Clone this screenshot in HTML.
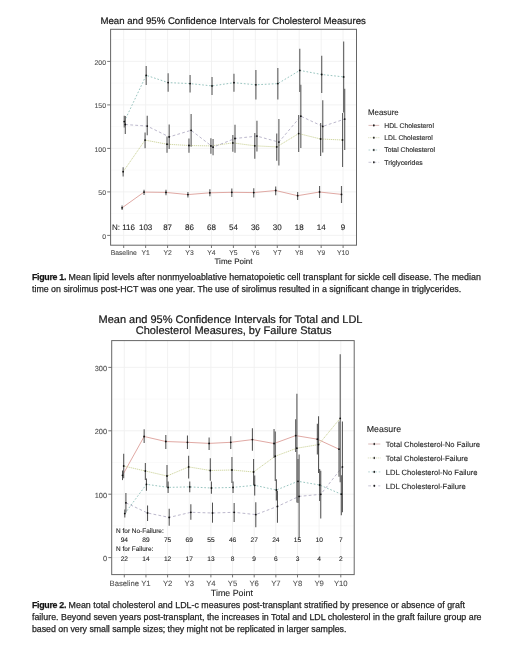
<!DOCTYPE html>
<html><head><meta charset="utf-8"><title>Figures</title>
<style>
html,body{margin:0;padding:0;background:#fff;}
body{width:520px;height:651px;position:relative;overflow:hidden;font-family:"Liberation Sans",sans-serif;}
svg{position:absolute;left:0;top:0;will-change:transform;}
svg text{font-family:"Liberation Sans",sans-serif;text-rendering:geometricPrecision;}
.cl{position:absolute;white-space:nowrap;font-size:8.83px;line-height:1;color:#262626;-webkit-text-stroke:0.25px #262626;}
.cl b{font-weight:bold;color:#111;}
</style></head>
<body>
<svg width="520" height="651" viewBox="0 0 520 651">
<line x1="110.6" x2="356.5" y1="213.65" y2="213.65" stroke="#f6f6f6" stroke-width="0.6"/>
<line x1="110.6" x2="356.5" y1="170.15" y2="170.15" stroke="#f6f6f6" stroke-width="0.6"/>
<line x1="110.6" x2="356.5" y1="126.65" y2="126.65" stroke="#f6f6f6" stroke-width="0.6"/>
<line x1="110.6" x2="356.5" y1="83.15" y2="83.15" stroke="#f6f6f6" stroke-width="0.6"/>
<line x1="110.6" x2="356.5" y1="39.65" y2="39.65" stroke="#f6f6f6" stroke-width="0.6"/>
<line x1="110.6" x2="356.5" y1="235.40" y2="235.40" stroke="#f0f0f0" stroke-width="0.9"/>
<line x1="110.6" x2="356.5" y1="191.90" y2="191.90" stroke="#f0f0f0" stroke-width="0.9"/>
<line x1="110.6" x2="356.5" y1="148.40" y2="148.40" stroke="#f0f0f0" stroke-width="0.9"/>
<line x1="110.6" x2="356.5" y1="104.90" y2="104.90" stroke="#f0f0f0" stroke-width="0.9"/>
<line x1="110.6" x2="356.5" y1="61.40" y2="61.40" stroke="#f0f0f0" stroke-width="0.9"/>
<line x1="123.70" x2="123.70" y1="29.3" y2="245.2" stroke="#f0f0f0" stroke-width="0.9"/>
<line x1="145.64" x2="145.64" y1="29.3" y2="245.2" stroke="#f0f0f0" stroke-width="0.9"/>
<line x1="167.58" x2="167.58" y1="29.3" y2="245.2" stroke="#f0f0f0" stroke-width="0.9"/>
<line x1="189.52" x2="189.52" y1="29.3" y2="245.2" stroke="#f0f0f0" stroke-width="0.9"/>
<line x1="211.46" x2="211.46" y1="29.3" y2="245.2" stroke="#f0f0f0" stroke-width="0.9"/>
<line x1="233.40" x2="233.40" y1="29.3" y2="245.2" stroke="#f0f0f0" stroke-width="0.9"/>
<line x1="255.34" x2="255.34" y1="29.3" y2="245.2" stroke="#f0f0f0" stroke-width="0.9"/>
<line x1="277.28" x2="277.28" y1="29.3" y2="245.2" stroke="#f0f0f0" stroke-width="0.9"/>
<line x1="299.22" x2="299.22" y1="29.3" y2="245.2" stroke="#f0f0f0" stroke-width="0.9"/>
<line x1="321.16" x2="321.16" y1="29.3" y2="245.2" stroke="#f0f0f0" stroke-width="0.9"/>
<line x1="343.10" x2="343.10" y1="29.3" y2="245.2" stroke="#f0f0f0" stroke-width="0.9"/>
<polyline points="122.10,207.80 144.04,192.10 165.98,192.40 187.92,194.60 209.86,192.80 231.80,192.30 253.74,192.60 275.68,190.50 297.62,195.70 319.56,192.00 341.50,194.40" fill="none" stroke="#da9993" stroke-width="0.85" />
<polyline points="123.15,171.70 145.09,140.10 167.03,144.20 188.97,145.50 210.91,145.90 232.85,142.90 254.79,145.80 276.73,146.90 298.67,133.60 320.61,139.00 342.55,140.00" fill="none" stroke="#c9d094" stroke-width="0.85" stroke-dasharray="0.5 1.5" stroke-linecap="round"/>
<polyline points="124.25,121.60 146.19,75.30 168.13,82.60 190.07,83.60 212.01,85.90 233.95,82.70 255.89,84.80 277.83,83.60 299.77,70.40 321.71,74.50 343.65,76.90" fill="none" stroke="#86bab5" stroke-width="0.85" stroke-dasharray="1.7 1.8"/>
<polyline points="125.30,124.50 147.24,126.10 169.18,136.90 191.12,130.30 213.06,147.20 235.00,138.50 256.94,136.10 278.88,142.10 300.82,116.20 322.76,126.40 344.70,119.10" fill="none" stroke="#b0abc3" stroke-width="0.85" stroke-dasharray="2.8 2.2"/>
<line x1="122.10" x2="122.10" y1="205.50" y2="210.10" stroke="#636363" stroke-width="1.15"/>
<line x1="144.04" x2="144.04" y1="189.70" y2="194.90" stroke="#636363" stroke-width="1.15"/>
<line x1="165.98" x2="165.98" y1="189.70" y2="195.20" stroke="#636363" stroke-width="1.15"/>
<line x1="187.92" x2="187.92" y1="192.10" y2="197.40" stroke="#636363" stroke-width="1.15"/>
<line x1="209.86" x2="209.86" y1="189.20" y2="196.20" stroke="#636363" stroke-width="1.15"/>
<line x1="231.80" x2="231.80" y1="188.50" y2="196.90" stroke="#636363" stroke-width="1.15"/>
<line x1="253.74" x2="253.74" y1="188.20" y2="197.40" stroke="#636363" stroke-width="1.15"/>
<line x1="275.68" x2="275.68" y1="186.60" y2="195.30" stroke="#636363" stroke-width="1.15"/>
<line x1="297.62" x2="297.62" y1="192.00" y2="200.00" stroke="#636363" stroke-width="1.15"/>
<line x1="319.56" x2="319.56" y1="186.00" y2="198.00" stroke="#636363" stroke-width="1.15"/>
<line x1="341.50" x2="341.50" y1="186.00" y2="203.00" stroke="#636363" stroke-width="1.15"/>
<line x1="123.15" x2="123.15" y1="167.30" y2="176.60" stroke="#636363" stroke-width="1.15"/>
<line x1="145.09" x2="145.09" y1="132.50" y2="148.30" stroke="#636363" stroke-width="1.15"/>
<line x1="167.03" x2="167.03" y1="136.40" y2="152.70" stroke="#636363" stroke-width="1.15"/>
<line x1="188.97" x2="188.97" y1="138.50" y2="152.70" stroke="#636363" stroke-width="1.15"/>
<line x1="210.91" x2="210.91" y1="138.20" y2="153.70" stroke="#636363" stroke-width="1.15"/>
<line x1="232.85" x2="232.85" y1="135.00" y2="151.80" stroke="#636363" stroke-width="1.15"/>
<line x1="254.79" x2="254.79" y1="132.90" y2="158.70" stroke="#636363" stroke-width="1.15"/>
<line x1="276.73" x2="276.73" y1="133.40" y2="160.80" stroke="#636363" stroke-width="1.15"/>
<line x1="298.67" x2="298.67" y1="115.00" y2="152.00" stroke="#636363" stroke-width="1.15"/>
<line x1="320.61" x2="320.61" y1="123.00" y2="156.00" stroke="#636363" stroke-width="1.15"/>
<line x1="342.55" x2="342.55" y1="113.00" y2="167.00" stroke="#636363" stroke-width="1.15"/>
<line x1="124.25" x2="124.25" y1="115.80" y2="127.40" stroke="#636363" stroke-width="1.15"/>
<line x1="146.19" x2="146.19" y1="66.10" y2="85.00" stroke="#636363" stroke-width="1.15"/>
<line x1="168.13" x2="168.13" y1="73.30" y2="91.80" stroke="#636363" stroke-width="1.15"/>
<line x1="190.07" x2="190.07" y1="75.00" y2="92.40" stroke="#636363" stroke-width="1.15"/>
<line x1="212.01" x2="212.01" y1="77.00" y2="94.90" stroke="#636363" stroke-width="1.15"/>
<line x1="233.95" x2="233.95" y1="73.80" y2="91.80" stroke="#636363" stroke-width="1.15"/>
<line x1="255.89" x2="255.89" y1="70.00" y2="99.50" stroke="#636363" stroke-width="1.15"/>
<line x1="277.83" x2="277.83" y1="67.90" y2="99.50" stroke="#636363" stroke-width="1.15"/>
<line x1="299.77" x2="299.77" y1="48.80" y2="92.10" stroke="#636363" stroke-width="1.15"/>
<line x1="321.71" x2="321.71" y1="55.80" y2="92.90" stroke="#636363" stroke-width="1.15"/>
<line x1="343.65" x2="343.65" y1="41.40" y2="112.40" stroke="#636363" stroke-width="1.15"/>
<line x1="125.30" x2="125.30" y1="116.00" y2="134.00" stroke="#636363" stroke-width="1.15"/>
<line x1="147.24" x2="147.24" y1="115.80" y2="135.30" stroke="#636363" stroke-width="1.15"/>
<line x1="169.18" x2="169.18" y1="124.60" y2="149.10" stroke="#636363" stroke-width="1.15"/>
<line x1="191.12" x2="191.12" y1="114.00" y2="146.70" stroke="#636363" stroke-width="1.15"/>
<line x1="213.06" x2="213.06" y1="139.00" y2="155.30" stroke="#636363" stroke-width="1.15"/>
<line x1="235.00" x2="235.00" y1="124.80" y2="152.70" stroke="#636363" stroke-width="1.15"/>
<line x1="256.94" x2="256.94" y1="120.80" y2="151.50" stroke="#636363" stroke-width="1.15"/>
<line x1="278.88" x2="278.88" y1="118.90" y2="165.60" stroke="#636363" stroke-width="1.15"/>
<line x1="300.82" x2="300.82" y1="84.80" y2="148.00" stroke="#636363" stroke-width="1.15"/>
<line x1="322.76" x2="322.76" y1="100.30" y2="152.50" stroke="#636363" stroke-width="1.15"/>
<line x1="344.70" x2="344.70" y1="88.80" y2="150.00" stroke="#636363" stroke-width="1.15"/>
<circle cx="122.10" cy="207.80" r="0.9" fill="#111"/>
<circle cx="144.04" cy="192.10" r="0.9" fill="#111"/>
<circle cx="165.98" cy="192.40" r="0.9" fill="#111"/>
<circle cx="187.92" cy="194.60" r="0.9" fill="#111"/>
<circle cx="209.86" cy="192.80" r="0.9" fill="#111"/>
<circle cx="231.80" cy="192.30" r="0.9" fill="#111"/>
<circle cx="253.74" cy="192.60" r="0.9" fill="#111"/>
<circle cx="275.68" cy="190.50" r="0.9" fill="#111"/>
<circle cx="297.62" cy="195.70" r="0.9" fill="#111"/>
<circle cx="319.56" cy="192.00" r="0.9" fill="#111"/>
<circle cx="341.50" cy="194.40" r="0.9" fill="#111"/>
<circle cx="123.15" cy="171.70" r="0.9" fill="#111"/>
<circle cx="145.09" cy="140.10" r="0.9" fill="#111"/>
<circle cx="167.03" cy="144.20" r="0.9" fill="#111"/>
<circle cx="188.97" cy="145.50" r="0.9" fill="#111"/>
<circle cx="210.91" cy="145.90" r="0.9" fill="#111"/>
<circle cx="232.85" cy="142.90" r="0.9" fill="#111"/>
<circle cx="254.79" cy="145.80" r="0.9" fill="#111"/>
<circle cx="276.73" cy="146.90" r="0.9" fill="#111"/>
<circle cx="298.67" cy="133.60" r="0.9" fill="#111"/>
<circle cx="320.61" cy="139.00" r="0.9" fill="#111"/>
<circle cx="342.55" cy="140.00" r="0.9" fill="#111"/>
<circle cx="124.25" cy="121.60" r="0.9" fill="#111"/>
<circle cx="146.19" cy="75.30" r="0.9" fill="#111"/>
<circle cx="168.13" cy="82.60" r="0.9" fill="#111"/>
<circle cx="190.07" cy="83.60" r="0.9" fill="#111"/>
<circle cx="212.01" cy="85.90" r="0.9" fill="#111"/>
<circle cx="233.95" cy="82.70" r="0.9" fill="#111"/>
<circle cx="255.89" cy="84.80" r="0.9" fill="#111"/>
<circle cx="277.83" cy="83.60" r="0.9" fill="#111"/>
<circle cx="299.77" cy="70.40" r="0.9" fill="#111"/>
<circle cx="321.71" cy="74.50" r="0.9" fill="#111"/>
<circle cx="343.65" cy="76.90" r="0.9" fill="#111"/>
<circle cx="125.30" cy="124.50" r="0.9" fill="#111"/>
<circle cx="147.24" cy="126.10" r="0.9" fill="#111"/>
<circle cx="169.18" cy="136.90" r="0.9" fill="#111"/>
<circle cx="191.12" cy="130.30" r="0.9" fill="#111"/>
<circle cx="213.06" cy="147.20" r="0.9" fill="#111"/>
<circle cx="235.00" cy="138.50" r="0.9" fill="#111"/>
<circle cx="256.94" cy="136.10" r="0.9" fill="#111"/>
<circle cx="278.88" cy="142.10" r="0.9" fill="#111"/>
<circle cx="300.82" cy="116.20" r="0.9" fill="#111"/>
<circle cx="322.76" cy="126.40" r="0.9" fill="#111"/>
<circle cx="344.70" cy="119.10" r="0.9" fill="#111"/>
<rect x="110.6" y="29.3" width="245.9" height="215.89999999999998" fill="none" stroke="#666666" stroke-width="1"/>
<line x1="107.20" x2="110.6" y1="235.40" y2="235.40" stroke="#666666" stroke-width="0.9"/>
<text x="106.00" y="238.67" font-size="6.9" fill="#4f4f4f" text-anchor="end" font-weight="normal" stroke="#4f4f4f" stroke-width="0.1">0</text>
<line x1="107.20" x2="110.6" y1="191.90" y2="191.90" stroke="#666666" stroke-width="0.9"/>
<text x="106.00" y="195.17" font-size="6.9" fill="#4f4f4f" text-anchor="end" font-weight="normal" stroke="#4f4f4f" stroke-width="0.1">50</text>
<line x1="107.20" x2="110.6" y1="148.40" y2="148.40" stroke="#666666" stroke-width="0.9"/>
<text x="106.00" y="151.67" font-size="6.9" fill="#4f4f4f" text-anchor="end" font-weight="normal" stroke="#4f4f4f" stroke-width="0.1">100</text>
<line x1="107.20" x2="110.6" y1="104.90" y2="104.90" stroke="#666666" stroke-width="0.9"/>
<text x="106.00" y="108.17" font-size="6.9" fill="#4f4f4f" text-anchor="end" font-weight="normal" stroke="#4f4f4f" stroke-width="0.1">150</text>
<line x1="107.20" x2="110.6" y1="61.40" y2="61.40" stroke="#666666" stroke-width="0.9"/>
<text x="106.00" y="64.67" font-size="6.9" fill="#4f4f4f" text-anchor="end" font-weight="normal" stroke="#4f4f4f" stroke-width="0.1">200</text>
<line x1="123.70" x2="123.70" y1="245.2" y2="248.00" stroke="#666666" stroke-width="0.9"/>
<text x="123.70" y="255.03" font-size="6.8" fill="#4f4f4f" text-anchor="middle" font-weight="normal" stroke="#4f4f4f" stroke-width="0.1">Baseline</text>
<line x1="145.64" x2="145.64" y1="245.2" y2="248.00" stroke="#666666" stroke-width="0.9"/>
<text x="145.64" y="255.03" font-size="6.8" fill="#4f4f4f" text-anchor="middle" font-weight="normal" stroke="#4f4f4f" stroke-width="0.1">Y1</text>
<line x1="167.58" x2="167.58" y1="245.2" y2="248.00" stroke="#666666" stroke-width="0.9"/>
<text x="167.58" y="255.03" font-size="6.8" fill="#4f4f4f" text-anchor="middle" font-weight="normal" stroke="#4f4f4f" stroke-width="0.1">Y2</text>
<line x1="189.52" x2="189.52" y1="245.2" y2="248.00" stroke="#666666" stroke-width="0.9"/>
<text x="189.52" y="255.03" font-size="6.8" fill="#4f4f4f" text-anchor="middle" font-weight="normal" stroke="#4f4f4f" stroke-width="0.1">Y3</text>
<line x1="211.46" x2="211.46" y1="245.2" y2="248.00" stroke="#666666" stroke-width="0.9"/>
<text x="211.46" y="255.03" font-size="6.8" fill="#4f4f4f" text-anchor="middle" font-weight="normal" stroke="#4f4f4f" stroke-width="0.1">Y4</text>
<line x1="233.40" x2="233.40" y1="245.2" y2="248.00" stroke="#666666" stroke-width="0.9"/>
<text x="233.40" y="255.03" font-size="6.8" fill="#4f4f4f" text-anchor="middle" font-weight="normal" stroke="#4f4f4f" stroke-width="0.1">Y5</text>
<line x1="255.34" x2="255.34" y1="245.2" y2="248.00" stroke="#666666" stroke-width="0.9"/>
<text x="255.34" y="255.03" font-size="6.8" fill="#4f4f4f" text-anchor="middle" font-weight="normal" stroke="#4f4f4f" stroke-width="0.1">Y6</text>
<line x1="277.28" x2="277.28" y1="245.2" y2="248.00" stroke="#666666" stroke-width="0.9"/>
<text x="277.28" y="255.03" font-size="6.8" fill="#4f4f4f" text-anchor="middle" font-weight="normal" stroke="#4f4f4f" stroke-width="0.1">Y7</text>
<line x1="299.22" x2="299.22" y1="245.2" y2="248.00" stroke="#666666" stroke-width="0.9"/>
<text x="299.22" y="255.03" font-size="6.8" fill="#4f4f4f" text-anchor="middle" font-weight="normal" stroke="#4f4f4f" stroke-width="0.1">Y8</text>
<line x1="321.16" x2="321.16" y1="245.2" y2="248.00" stroke="#666666" stroke-width="0.9"/>
<text x="321.16" y="255.03" font-size="6.8" fill="#4f4f4f" text-anchor="middle" font-weight="normal" stroke="#4f4f4f" stroke-width="0.1">Y9</text>
<line x1="343.10" x2="343.10" y1="245.2" y2="248.00" stroke="#666666" stroke-width="0.9"/>
<text x="343.10" y="255.03" font-size="6.8" fill="#4f4f4f" text-anchor="middle" font-weight="normal" stroke="#4f4f4f" stroke-width="0.1">Y10</text>
<line x1="111.7" x2="354.2" y1="525.90" y2="525.90" stroke="#f6f6f6" stroke-width="0.6"/>
<line x1="111.7" x2="354.2" y1="462.50" y2="462.50" stroke="#f6f6f6" stroke-width="0.6"/>
<line x1="111.7" x2="354.2" y1="399.10" y2="399.10" stroke="#f6f6f6" stroke-width="0.6"/>
<line x1="111.7" x2="354.2" y1="557.60" y2="557.60" stroke="#f0f0f0" stroke-width="0.9"/>
<line x1="111.7" x2="354.2" y1="494.20" y2="494.20" stroke="#f0f0f0" stroke-width="0.9"/>
<line x1="111.7" x2="354.2" y1="430.80" y2="430.80" stroke="#f0f0f0" stroke-width="0.9"/>
<line x1="111.7" x2="354.2" y1="367.40" y2="367.40" stroke="#f0f0f0" stroke-width="0.9"/>
<line x1="124.30" x2="124.30" y1="340.6" y2="574.6" stroke="#f0f0f0" stroke-width="0.9"/>
<line x1="145.95" x2="145.95" y1="340.6" y2="574.6" stroke="#f0f0f0" stroke-width="0.9"/>
<line x1="167.60" x2="167.60" y1="340.6" y2="574.6" stroke="#f0f0f0" stroke-width="0.9"/>
<line x1="189.25" x2="189.25" y1="340.6" y2="574.6" stroke="#f0f0f0" stroke-width="0.9"/>
<line x1="210.90" x2="210.90" y1="340.6" y2="574.6" stroke="#f0f0f0" stroke-width="0.9"/>
<line x1="232.55" x2="232.55" y1="340.6" y2="574.6" stroke="#f0f0f0" stroke-width="0.9"/>
<line x1="254.20" x2="254.20" y1="340.6" y2="574.6" stroke="#f0f0f0" stroke-width="0.9"/>
<line x1="275.85" x2="275.85" y1="340.6" y2="574.6" stroke="#f0f0f0" stroke-width="0.9"/>
<line x1="297.50" x2="297.50" y1="340.6" y2="574.6" stroke="#f0f0f0" stroke-width="0.9"/>
<line x1="319.15" x2="319.15" y1="340.6" y2="574.6" stroke="#f0f0f0" stroke-width="0.9"/>
<line x1="340.80" x2="340.80" y1="340.6" y2="574.6" stroke="#f0f0f0" stroke-width="0.9"/>
<polyline points="122.50,475.30 144.15,436.50 165.80,441.50 187.45,442.30 209.10,443.40 230.75,442.30 252.40,439.60 274.05,443.50 295.70,435.60 317.35,439.20 339.00,449.20" fill="none" stroke="#da9993" stroke-width="0.85" />
<polyline points="123.70,466.00 145.35,471.00 167.00,476.00 188.65,466.90 210.30,470.50 231.95,470.00 253.60,472.00 275.25,456.20 296.90,448.20 318.55,444.60 340.20,418.30" fill="none" stroke="#c9d094" stroke-width="0.85" stroke-dasharray="0.5 1.5" stroke-linecap="round"/>
<polyline points="124.80,513.60 146.45,484.30 168.10,487.40 189.75,486.90 211.40,488.00 233.05,487.40 254.70,485.30 276.35,490.00 298.00,481.30 319.65,485.00 341.30,494.20" fill="none" stroke="#86bab5" stroke-width="0.85" stroke-dasharray="1.7 1.8"/>
<polyline points="125.90,502.80 147.55,513.00 169.20,517.40 190.85,512.30 212.50,513.00 234.15,512.30 255.80,514.60 277.45,506.40 299.10,496.40 320.75,494.30 342.40,466.90" fill="none" stroke="#b0abc3" stroke-width="0.85" stroke-dasharray="2.8 2.2"/>
<line x1="122.50" x2="122.50" y1="470.50" y2="480.10" stroke="#525252" stroke-width="1.05"/>
<line x1="144.15" x2="144.15" y1="429.20" y2="443.10" stroke="#525252" stroke-width="1.05"/>
<line x1="165.80" x2="165.80" y1="435.00" y2="448.90" stroke="#525252" stroke-width="1.05"/>
<line x1="187.45" x2="187.45" y1="435.40" y2="448.90" stroke="#525252" stroke-width="1.05"/>
<line x1="209.10" x2="209.10" y1="437.40" y2="450.00" stroke="#525252" stroke-width="1.05"/>
<line x1="230.75" x2="230.75" y1="436.20" y2="448.90" stroke="#525252" stroke-width="1.05"/>
<line x1="252.40" x2="252.40" y1="428.20" y2="450.80" stroke="#525252" stroke-width="1.05"/>
<line x1="274.05" x2="274.05" y1="429.00" y2="458.00" stroke="#525252" stroke-width="1.05"/>
<line x1="295.70" x2="295.70" y1="419.20" y2="452.00" stroke="#525252" stroke-width="1.05"/>
<line x1="317.35" x2="317.35" y1="423.80" y2="454.60" stroke="#525252" stroke-width="1.05"/>
<line x1="339.00" x2="339.00" y1="421.40" y2="476.80" stroke="#525252" stroke-width="1.05"/>
<line x1="123.70" x2="123.70" y1="453.70" y2="478.30" stroke="#525252" stroke-width="1.05"/>
<line x1="145.35" x2="145.35" y1="463.00" y2="480.00" stroke="#525252" stroke-width="1.05"/>
<line x1="167.00" x2="167.00" y1="465.00" y2="487.00" stroke="#525252" stroke-width="1.05"/>
<line x1="188.65" x2="188.65" y1="455.70" y2="478.50" stroke="#525252" stroke-width="1.05"/>
<line x1="210.30" x2="210.30" y1="458.20" y2="480.80" stroke="#525252" stroke-width="1.05"/>
<line x1="231.95" x2="231.95" y1="457.00" y2="483.00" stroke="#525252" stroke-width="1.05"/>
<line x1="253.60" x2="253.60" y1="459.00" y2="485.00" stroke="#525252" stroke-width="1.05"/>
<line x1="275.25" x2="275.25" y1="431.50" y2="481.00" stroke="#525252" stroke-width="1.05"/>
<line x1="296.90" x2="296.90" y1="393.80" y2="502.60" stroke="#525252" stroke-width="1.05"/>
<line x1="318.55" x2="318.55" y1="416.30" y2="473.00" stroke="#525252" stroke-width="1.05"/>
<line x1="340.20" x2="340.20" y1="354.30" y2="482.30" stroke="#525252" stroke-width="1.05"/>
<line x1="124.80" x2="124.80" y1="509.60" y2="517.60" stroke="#525252" stroke-width="1.05"/>
<line x1="146.45" x2="146.45" y1="478.50" y2="490.80" stroke="#525252" stroke-width="1.05"/>
<line x1="168.10" x2="168.10" y1="481.50" y2="493.00" stroke="#525252" stroke-width="1.05"/>
<line x1="189.75" x2="189.75" y1="481.50" y2="492.30" stroke="#525252" stroke-width="1.05"/>
<line x1="211.40" x2="211.40" y1="481.50" y2="493.80" stroke="#525252" stroke-width="1.05"/>
<line x1="233.05" x2="233.05" y1="481.50" y2="493.00" stroke="#525252" stroke-width="1.05"/>
<line x1="254.70" x2="254.70" y1="475.40" y2="495.40" stroke="#525252" stroke-width="1.05"/>
<line x1="276.35" x2="276.35" y1="479.20" y2="500.50" stroke="#525252" stroke-width="1.05"/>
<line x1="298.00" x2="298.00" y1="459.00" y2="503.00" stroke="#525252" stroke-width="1.05"/>
<line x1="319.65" x2="319.65" y1="469.00" y2="501.00" stroke="#525252" stroke-width="1.05"/>
<line x1="341.30" x2="341.30" y1="475.30" y2="515.20" stroke="#525252" stroke-width="1.05"/>
<line x1="125.90" x2="125.90" y1="493.00" y2="512.60" stroke="#525252" stroke-width="1.05"/>
<line x1="147.55" x2="147.55" y1="505.40" y2="521.10" stroke="#525252" stroke-width="1.05"/>
<line x1="169.20" x2="169.20" y1="508.80" y2="525.70" stroke="#525252" stroke-width="1.05"/>
<line x1="190.85" x2="190.85" y1="504.20" y2="519.70" stroke="#525252" stroke-width="1.05"/>
<line x1="212.50" x2="212.50" y1="502.60" y2="522.70" stroke="#525252" stroke-width="1.05"/>
<line x1="234.15" x2="234.15" y1="503.00" y2="522.00" stroke="#525252" stroke-width="1.05"/>
<line x1="255.80" x2="255.80" y1="502.30" y2="527.30" stroke="#525252" stroke-width="1.05"/>
<line x1="277.45" x2="277.45" y1="490.80" y2="522.80" stroke="#525252" stroke-width="1.05"/>
<line x1="299.10" x2="299.10" y1="454.50" y2="538.30" stroke="#525252" stroke-width="1.05"/>
<line x1="320.75" x2="320.75" y1="470.80" y2="518.50" stroke="#525252" stroke-width="1.05"/>
<line x1="342.40" x2="342.40" y1="421.50" y2="512.30" stroke="#525252" stroke-width="1.05"/>
<circle cx="122.50" cy="475.30" r="0.9" fill="#111"/>
<circle cx="144.15" cy="436.50" r="0.9" fill="#111"/>
<circle cx="165.80" cy="441.50" r="0.9" fill="#111"/>
<circle cx="187.45" cy="442.30" r="0.9" fill="#111"/>
<circle cx="209.10" cy="443.40" r="0.9" fill="#111"/>
<circle cx="230.75" cy="442.30" r="0.9" fill="#111"/>
<circle cx="252.40" cy="439.60" r="0.9" fill="#111"/>
<circle cx="274.05" cy="443.50" r="0.9" fill="#111"/>
<circle cx="295.70" cy="435.60" r="0.9" fill="#111"/>
<circle cx="317.35" cy="439.20" r="0.9" fill="#111"/>
<circle cx="339.00" cy="449.20" r="0.9" fill="#111"/>
<circle cx="123.70" cy="466.00" r="0.9" fill="#111"/>
<circle cx="145.35" cy="471.00" r="0.9" fill="#111"/>
<circle cx="167.00" cy="476.00" r="0.9" fill="#111"/>
<circle cx="188.65" cy="466.90" r="0.9" fill="#111"/>
<circle cx="210.30" cy="470.50" r="0.9" fill="#111"/>
<circle cx="231.95" cy="470.00" r="0.9" fill="#111"/>
<circle cx="253.60" cy="472.00" r="0.9" fill="#111"/>
<circle cx="275.25" cy="456.20" r="0.9" fill="#111"/>
<circle cx="296.90" cy="448.20" r="0.9" fill="#111"/>
<circle cx="318.55" cy="444.60" r="0.9" fill="#111"/>
<circle cx="340.20" cy="418.30" r="0.9" fill="#111"/>
<circle cx="124.80" cy="513.60" r="0.9" fill="#111"/>
<circle cx="146.45" cy="484.30" r="0.9" fill="#111"/>
<circle cx="168.10" cy="487.40" r="0.9" fill="#111"/>
<circle cx="189.75" cy="486.90" r="0.9" fill="#111"/>
<circle cx="211.40" cy="488.00" r="0.9" fill="#111"/>
<circle cx="233.05" cy="487.40" r="0.9" fill="#111"/>
<circle cx="254.70" cy="485.30" r="0.9" fill="#111"/>
<circle cx="276.35" cy="490.00" r="0.9" fill="#111"/>
<circle cx="298.00" cy="481.30" r="0.9" fill="#111"/>
<circle cx="319.65" cy="485.00" r="0.9" fill="#111"/>
<circle cx="341.30" cy="494.20" r="0.9" fill="#111"/>
<circle cx="125.90" cy="502.80" r="0.9" fill="#111"/>
<circle cx="147.55" cy="513.00" r="0.9" fill="#111"/>
<circle cx="169.20" cy="517.40" r="0.9" fill="#111"/>
<circle cx="190.85" cy="512.30" r="0.9" fill="#111"/>
<circle cx="212.50" cy="513.00" r="0.9" fill="#111"/>
<circle cx="234.15" cy="512.30" r="0.9" fill="#111"/>
<circle cx="255.80" cy="514.60" r="0.9" fill="#111"/>
<circle cx="277.45" cy="506.40" r="0.9" fill="#111"/>
<circle cx="299.10" cy="496.40" r="0.9" fill="#111"/>
<circle cx="320.75" cy="494.30" r="0.9" fill="#111"/>
<circle cx="342.40" cy="466.90" r="0.9" fill="#111"/>
<rect x="111.7" y="340.6" width="242.5" height="234.0" fill="none" stroke="#666666" stroke-width="1"/>
<line x1="108.30" x2="111.7" y1="557.60" y2="557.60" stroke="#666666" stroke-width="0.9"/>
<text x="107.10" y="561.05" font-size="7.4" fill="#4f4f4f" text-anchor="end" font-weight="normal" stroke="#4f4f4f" stroke-width="0.1">0</text>
<line x1="108.30" x2="111.7" y1="494.20" y2="494.20" stroke="#666666" stroke-width="0.9"/>
<text x="107.10" y="497.65" font-size="7.4" fill="#4f4f4f" text-anchor="end" font-weight="normal" stroke="#4f4f4f" stroke-width="0.1">100</text>
<line x1="108.30" x2="111.7" y1="430.80" y2="430.80" stroke="#666666" stroke-width="0.9"/>
<text x="107.10" y="434.25" font-size="7.4" fill="#4f4f4f" text-anchor="end" font-weight="normal" stroke="#4f4f4f" stroke-width="0.1">200</text>
<line x1="108.30" x2="111.7" y1="367.40" y2="367.40" stroke="#666666" stroke-width="0.9"/>
<text x="107.10" y="370.85" font-size="7.4" fill="#4f4f4f" text-anchor="end" font-weight="normal" stroke="#4f4f4f" stroke-width="0.1">300</text>
<line x1="124.30" x2="124.30" y1="574.6" y2="577.40" stroke="#666666" stroke-width="0.9"/>
<text x="124.30" y="585.76" font-size="7.7" fill="#4f4f4f" text-anchor="middle" font-weight="normal" stroke="#4f4f4f" stroke-width="0.1">Baseline</text>
<line x1="145.95" x2="145.95" y1="574.6" y2="577.40" stroke="#666666" stroke-width="0.9"/>
<text x="145.95" y="585.76" font-size="7.7" fill="#4f4f4f" text-anchor="middle" font-weight="normal" stroke="#4f4f4f" stroke-width="0.1">Y1</text>
<line x1="167.60" x2="167.60" y1="574.6" y2="577.40" stroke="#666666" stroke-width="0.9"/>
<text x="167.60" y="585.76" font-size="7.7" fill="#4f4f4f" text-anchor="middle" font-weight="normal" stroke="#4f4f4f" stroke-width="0.1">Y2</text>
<line x1="189.25" x2="189.25" y1="574.6" y2="577.40" stroke="#666666" stroke-width="0.9"/>
<text x="189.25" y="585.76" font-size="7.7" fill="#4f4f4f" text-anchor="middle" font-weight="normal" stroke="#4f4f4f" stroke-width="0.1">Y3</text>
<line x1="210.90" x2="210.90" y1="574.6" y2="577.40" stroke="#666666" stroke-width="0.9"/>
<text x="210.90" y="585.76" font-size="7.7" fill="#4f4f4f" text-anchor="middle" font-weight="normal" stroke="#4f4f4f" stroke-width="0.1">Y4</text>
<line x1="232.55" x2="232.55" y1="574.6" y2="577.40" stroke="#666666" stroke-width="0.9"/>
<text x="232.55" y="585.76" font-size="7.7" fill="#4f4f4f" text-anchor="middle" font-weight="normal" stroke="#4f4f4f" stroke-width="0.1">Y5</text>
<line x1="254.20" x2="254.20" y1="574.6" y2="577.40" stroke="#666666" stroke-width="0.9"/>
<text x="254.20" y="585.76" font-size="7.7" fill="#4f4f4f" text-anchor="middle" font-weight="normal" stroke="#4f4f4f" stroke-width="0.1">Y6</text>
<line x1="275.85" x2="275.85" y1="574.6" y2="577.40" stroke="#666666" stroke-width="0.9"/>
<text x="275.85" y="585.76" font-size="7.7" fill="#4f4f4f" text-anchor="middle" font-weight="normal" stroke="#4f4f4f" stroke-width="0.1">Y7</text>
<line x1="297.50" x2="297.50" y1="574.6" y2="577.40" stroke="#666666" stroke-width="0.9"/>
<text x="297.50" y="585.76" font-size="7.7" fill="#4f4f4f" text-anchor="middle" font-weight="normal" stroke="#4f4f4f" stroke-width="0.1">Y8</text>
<line x1="319.15" x2="319.15" y1="574.6" y2="577.40" stroke="#666666" stroke-width="0.9"/>
<text x="319.15" y="585.76" font-size="7.7" fill="#4f4f4f" text-anchor="middle" font-weight="normal" stroke="#4f4f4f" stroke-width="0.1">Y9</text>
<line x1="340.80" x2="340.80" y1="574.6" y2="577.40" stroke="#666666" stroke-width="0.9"/>
<text x="340.80" y="585.76" font-size="7.7" fill="#4f4f4f" text-anchor="middle" font-weight="normal" stroke="#4f4f4f" stroke-width="0.1">Y10</text>
<text x="233.15" y="23.65" font-size="9.65" fill="#1a1a1a" text-anchor="middle" font-weight="normal" stroke="#1a1a1a" stroke-width="0.22">Mean and 95% Confidence Intervals for Cholesterol Measures</text>
<text x="230.50" y="323.14" font-size="11.0" fill="#1a1a1a" text-anchor="middle" font-weight="normal" stroke="#1a1a1a" stroke-width="0.22">Mean and 95% Confidence Intervals for Total and LDL</text>
<text x="233.60" y="334.34" font-size="11.0" fill="#1a1a1a" text-anchor="middle" font-weight="normal" stroke="#1a1a1a" stroke-width="0.22">Cholesterol Measures, by Failure Status</text>
<text x="233.50" y="263.86" font-size="8.0" fill="#1a1a1a" text-anchor="middle" font-weight="normal" stroke="#1a1a1a" stroke-width="0.1">Time Point</text>
<text x="231.90" y="595.69" font-size="8.9" fill="#1a1a1a" text-anchor="middle" font-weight="normal" stroke="#1a1a1a" stroke-width="0.1">Time Point</text>
<text x="123.50" y="230.16" font-size="8.0" fill="#222" text-anchor="middle" font-weight="normal" stroke="#222" stroke-width="0.1">N: 116</text>
<text x="145.64" y="230.16" font-size="8.0" fill="#222" text-anchor="middle" font-weight="normal" stroke="#222" stroke-width="0.1">103</text>
<text x="167.58" y="230.16" font-size="8.0" fill="#222" text-anchor="middle" font-weight="normal" stroke="#222" stroke-width="0.1">87</text>
<text x="189.52" y="230.16" font-size="8.0" fill="#222" text-anchor="middle" font-weight="normal" stroke="#222" stroke-width="0.1">86</text>
<text x="211.46" y="230.16" font-size="8.0" fill="#222" text-anchor="middle" font-weight="normal" stroke="#222" stroke-width="0.1">68</text>
<text x="233.40" y="230.16" font-size="8.0" fill="#222" text-anchor="middle" font-weight="normal" stroke="#222" stroke-width="0.1">54</text>
<text x="255.34" y="230.16" font-size="8.0" fill="#222" text-anchor="middle" font-weight="normal" stroke="#222" stroke-width="0.1">36</text>
<text x="277.28" y="230.16" font-size="8.0" fill="#222" text-anchor="middle" font-weight="normal" stroke="#222" stroke-width="0.1">30</text>
<text x="299.22" y="230.16" font-size="8.0" fill="#222" text-anchor="middle" font-weight="normal" stroke="#222" stroke-width="0.1">18</text>
<text x="321.16" y="230.16" font-size="8.0" fill="#222" text-anchor="middle" font-weight="normal" stroke="#222" stroke-width="0.1">14</text>
<text x="343.10" y="230.16" font-size="8.0" fill="#222" text-anchor="middle" font-weight="normal" stroke="#222" stroke-width="0.1">9</text>
<text x="116.10" y="532.71" font-size="6.45" fill="#222" text-anchor="start" font-weight="normal" stroke="#222" stroke-width="0.1">N for No-Failure:</text>
<text x="116.10" y="551.31" font-size="6.45" fill="#222" text-anchor="start" font-weight="normal" stroke="#222" stroke-width="0.1">N for Failure:</text>
<text x="124.30" y="541.96" font-size="6.6" fill="#222" text-anchor="middle" font-weight="normal" stroke="#222" stroke-width="0.1">94</text>
<text x="145.95" y="541.96" font-size="6.6" fill="#222" text-anchor="middle" font-weight="normal" stroke="#222" stroke-width="0.1">89</text>
<text x="167.60" y="541.96" font-size="6.6" fill="#222" text-anchor="middle" font-weight="normal" stroke="#222" stroke-width="0.1">75</text>
<text x="189.25" y="541.96" font-size="6.6" fill="#222" text-anchor="middle" font-weight="normal" stroke="#222" stroke-width="0.1">69</text>
<text x="210.90" y="541.96" font-size="6.6" fill="#222" text-anchor="middle" font-weight="normal" stroke="#222" stroke-width="0.1">55</text>
<text x="232.55" y="541.96" font-size="6.6" fill="#222" text-anchor="middle" font-weight="normal" stroke="#222" stroke-width="0.1">46</text>
<text x="254.20" y="541.96" font-size="6.6" fill="#222" text-anchor="middle" font-weight="normal" stroke="#222" stroke-width="0.1">27</text>
<text x="275.85" y="541.96" font-size="6.6" fill="#222" text-anchor="middle" font-weight="normal" stroke="#222" stroke-width="0.1">24</text>
<text x="297.50" y="541.96" font-size="6.6" fill="#222" text-anchor="middle" font-weight="normal" stroke="#222" stroke-width="0.1">15</text>
<text x="319.15" y="541.96" font-size="6.6" fill="#222" text-anchor="middle" font-weight="normal" stroke="#222" stroke-width="0.1">10</text>
<text x="340.80" y="541.96" font-size="6.6" fill="#222" text-anchor="middle" font-weight="normal" stroke="#222" stroke-width="0.1">7</text>
<text x="124.30" y="560.86" font-size="6.6" fill="#222" text-anchor="middle" font-weight="normal" stroke="#222" stroke-width="0.1">22</text>
<text x="145.95" y="560.86" font-size="6.6" fill="#222" text-anchor="middle" font-weight="normal" stroke="#222" stroke-width="0.1">14</text>
<text x="167.60" y="560.86" font-size="6.6" fill="#222" text-anchor="middle" font-weight="normal" stroke="#222" stroke-width="0.1">12</text>
<text x="189.25" y="560.86" font-size="6.6" fill="#222" text-anchor="middle" font-weight="normal" stroke="#222" stroke-width="0.1">17</text>
<text x="210.90" y="560.86" font-size="6.6" fill="#222" text-anchor="middle" font-weight="normal" stroke="#222" stroke-width="0.1">13</text>
<text x="232.55" y="560.86" font-size="6.6" fill="#222" text-anchor="middle" font-weight="normal" stroke="#222" stroke-width="0.1">8</text>
<text x="254.20" y="560.86" font-size="6.6" fill="#222" text-anchor="middle" font-weight="normal" stroke="#222" stroke-width="0.1">9</text>
<text x="275.85" y="560.86" font-size="6.6" fill="#222" text-anchor="middle" font-weight="normal" stroke="#222" stroke-width="0.1">6</text>
<text x="297.50" y="560.86" font-size="6.6" fill="#222" text-anchor="middle" font-weight="normal" stroke="#222" stroke-width="0.1">3</text>
<text x="319.15" y="560.86" font-size="6.6" fill="#222" text-anchor="middle" font-weight="normal" stroke="#222" stroke-width="0.1">4</text>
<text x="340.80" y="560.86" font-size="6.6" fill="#222" text-anchor="middle" font-weight="normal" stroke="#222" stroke-width="0.1">2</text>
<text x="368.00" y="114.83" font-size="7.9" fill="#222" text-anchor="start" font-weight="normal" stroke="#222" stroke-width="0.1">Measure</text>
<line x1="368.5" x2="379.2" y1="125.40" y2="125.40" stroke="#cfa3a0" stroke-width="0.75" />
<line x1="373.85" x2="373.85" y1="124.20" y2="126.60" stroke="#636363" stroke-width="1.0"/>
<circle cx="373.85" cy="125.40" r="0.8" fill="#111"/>
<text x="384.30" y="127.83" font-size="6.8" fill="#222" text-anchor="start" font-weight="normal" stroke="#222" stroke-width="0.1">HDL Cholesterol</text>
<line x1="368.5" x2="379.2" y1="137.70" y2="137.70" stroke="#d3d8b0" stroke-width="0.75" stroke-dasharray="0.5 1.5" stroke-linecap="round"/>
<line x1="373.85" x2="373.85" y1="136.50" y2="138.90" stroke="#636363" stroke-width="1.0"/>
<circle cx="373.85" cy="137.70" r="0.8" fill="#111"/>
<text x="384.30" y="140.13" font-size="6.8" fill="#222" text-anchor="start" font-weight="normal" stroke="#222" stroke-width="0.1">LDL Cholesterol</text>
<line x1="368.5" x2="379.2" y1="150.00" y2="150.00" stroke="#9fc6c6" stroke-width="0.75" stroke-dasharray="1.7 1.8"/>
<line x1="373.85" x2="373.85" y1="148.80" y2="151.20" stroke="#636363" stroke-width="1.0"/>
<circle cx="373.85" cy="150.00" r="0.8" fill="#111"/>
<text x="384.30" y="152.43" font-size="6.8" fill="#222" text-anchor="start" font-weight="normal" stroke="#222" stroke-width="0.1">Total Cholesterol</text>
<line x1="368.5" x2="379.2" y1="162.30" y2="162.30" stroke="#b7b3c8" stroke-width="0.75" stroke-dasharray="2.8 2.2"/>
<line x1="373.85" x2="373.85" y1="161.10" y2="163.50" stroke="#636363" stroke-width="1.0"/>
<circle cx="373.85" cy="162.30" r="0.8" fill="#111"/>
<text x="384.30" y="164.73" font-size="6.8" fill="#222" text-anchor="start" font-weight="normal" stroke="#222" stroke-width="0.1">Triglycerides</text>
<text x="366.80" y="431.65" font-size="8.8" fill="#222" text-anchor="start" font-weight="normal" stroke="#222" stroke-width="0.1">Measure</text>
<line x1="368.2" x2="380.3" y1="444.00" y2="444.00" stroke="#cfa3a0" stroke-width="0.75" />
<line x1="374.25" x2="374.25" y1="442.80" y2="445.20" stroke="#636363" stroke-width="1.0"/>
<circle cx="374.25" cy="444.00" r="0.8" fill="#111"/>
<text x="385.80" y="446.72" font-size="7.6" fill="#222" text-anchor="start" font-weight="normal" stroke="#222" stroke-width="0.1">Total Cholesterol-No Failure</text>
<line x1="368.2" x2="380.3" y1="457.95" y2="457.95" stroke="#d3d8b0" stroke-width="0.75" stroke-dasharray="0.5 1.5" stroke-linecap="round"/>
<line x1="374.25" x2="374.25" y1="456.75" y2="459.15" stroke="#636363" stroke-width="1.0"/>
<circle cx="374.25" cy="457.95" r="0.8" fill="#111"/>
<text x="385.80" y="460.67" font-size="7.6" fill="#222" text-anchor="start" font-weight="normal" stroke="#222" stroke-width="0.1">Total Cholesterol-Failure</text>
<line x1="368.2" x2="380.3" y1="471.90" y2="471.90" stroke="#9fc6c6" stroke-width="0.75" stroke-dasharray="1.7 1.8"/>
<line x1="374.25" x2="374.25" y1="470.70" y2="473.10" stroke="#636363" stroke-width="1.0"/>
<circle cx="374.25" cy="471.90" r="0.8" fill="#111"/>
<text x="385.80" y="474.62" font-size="7.6" fill="#222" text-anchor="start" font-weight="normal" stroke="#222" stroke-width="0.1">LDL Cholesterol-No Failure</text>
<line x1="368.2" x2="380.3" y1="485.85" y2="485.85" stroke="#b7b3c8" stroke-width="0.75" stroke-dasharray="2.8 2.2"/>
<line x1="374.25" x2="374.25" y1="484.65" y2="487.05" stroke="#636363" stroke-width="1.0"/>
<circle cx="374.25" cy="485.85" r="0.8" fill="#111"/>
<text x="385.80" y="488.57" font-size="7.6" fill="#222" text-anchor="start" font-weight="normal" stroke="#222" stroke-width="0.1">LDL Cholesterol-Failure</text>
</svg>
<div class="cl" style="left:32.0px;top:273.13px;letter-spacing:0.039px"><b style="letter-spacing:-0.3px">Figure 1.</b> Mean lipid levels after nonmyeloablative hematopoietic cell transplant for sickle cell disease. The median</div><div class="cl" style="left:32.0px;top:284.53px;letter-spacing:-0.003px">time on sirolimus post-HCT was one year. The use of sirolimus resulted in a significant change in triglycerides.</div><div class="cl" style="left:32.0px;top:601.23px;letter-spacing:0.023px"><b style="letter-spacing:-0.3px">Figure 2.</b> Mean total cholesterol and LDL-c measures post-transplant stratified by presence or absence of graft</div><div class="cl" style="left:32.0px;top:613.03px;letter-spacing:0.004px">failure. Beyond seven years post-transplant, the increases in Total and LDL cholesterol in the graft failure group are</div><div class="cl" style="left:32.0px;top:624.53px;letter-spacing:-0.038px">based on very small sample sizes; they might not be replicated in larger samples.</div>
</body></html>
